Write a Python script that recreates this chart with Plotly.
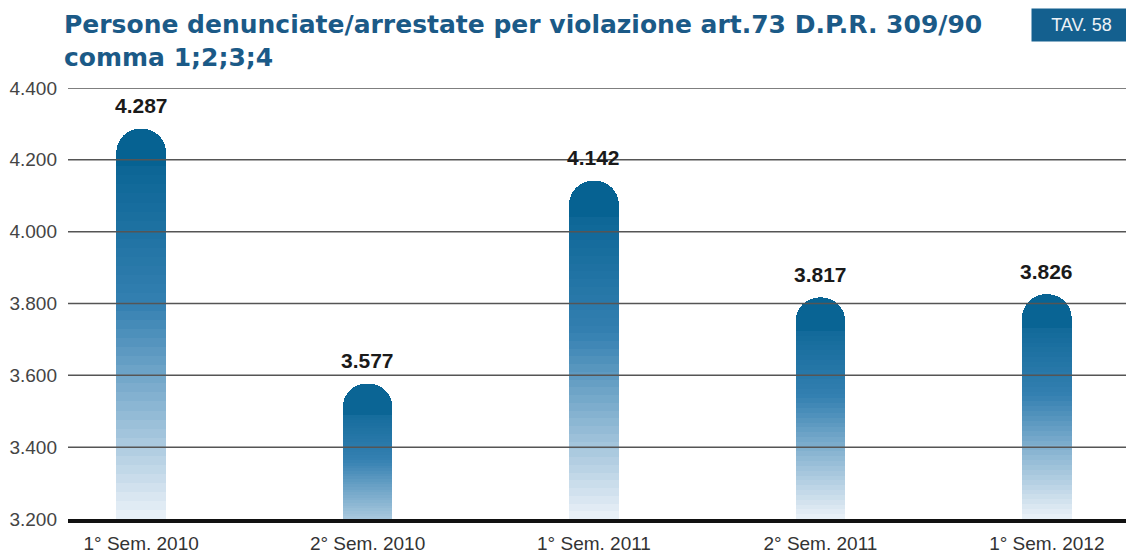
import plotly.graph_objects as go

categories = ["1° Sem. 2010", "2° Sem. 2010", "1° Sem. 2011", "2° Sem. 2011", "1° Sem. 2012"]
values = [4287, 3577, 4142, 3817, 3826]
y_ticks = [3200, 3400, 3600, 3800, 4000, 4200, 4400]
y_tick_labels = ["3.200", "3.400", "3.600", "3.800", "4.000", "4.200", "4.400"]

Y_MIN, Y_MAX = 3200, 4400
TITLE = "Persone denunciate/arrestate per violazione art.73 D.P.R. 309/90<br>comma 1;2;3;4"

stops = [(0.0, (0, 94, 142)), (0.45, (52, 128, 177)), (1.0, (236, 242, 248))]


def grad(t):
    t = max(0.0, min(1.0, t))
    for (t0, c0), (t1, c1) in zip(stops[:-1], stops[1:]):
        if t <= t1:
            f = (t - t0) / (t1 - t0)
            return "rgb(%d,%d,%d)" % tuple(round(a + (b - a) * f) for a, b in zip(c0, c1))
    return "rgb(%d,%d,%d)" % stops[-1][1]


fig = go.Figure()
N = 40
TOP_MIN = 80
for k in range(N):
    heights, colors = [], []
    for v in values:
        L = v - Y_MIN
        b0 = Y_MIN + (L - TOP_MIN) * k / N
        b1 = Y_MIN + (L - TOP_MIN) * (k + 1) / N if k < N - 1 else v
        mid = (b0 + b1) / 2
        # first slice is drawn from 0 (clipped by the axis range), the rest stack on top
        heights.append(b1 if k == 0 else b1 - b0)
        colors.append(grad((v - mid) / max(L, 470)))
    fig.add_trace(go.Bar(
        x=categories, y=heights,
        marker=dict(color=colors, line=dict(width=0)),
        width=0.22, showlegend=False, hoverinfo="skip",
    ))

for c, v in zip(categories, values):
    fig.add_annotation(x=c, y=v, text=f"{v:,}".replace(",", "."), showarrow=False,
                       yshift=23, font=dict(family="Liberation Sans", size=21, color="#1a1a1a", weight="bold"))

for t in y_ticks[1:]:
    fig.add_shape(type="line", xref="paper", x0=0, x1=1, yref="y", y0=t, y1=t,
                  line=dict(color="#555555", width=1.5), layer="above")

fig.add_annotation(xref="paper", yref="paper", x=-0.0056, y=1.1856, yanchor="top", xanchor="left",
                   text=f"<b>{TITLE}</b>", align="left", showarrow=False,
                   font=dict(family="DejaVu Sans", size=25, color="#1b5a87"))
fig.add_annotation(xref="paper", yref="paper", x=0.998, y=1.1856, xanchor="right", yanchor="top",
                   text="TAV. 58", showarrow=False, bgcolor="#14608f",
                   borderpad=4, width=91, height=24,
                   font=dict(family="Liberation Sans", size=18, color="#eef2f6"))

fig.update_layout(
    width=1126, height=550,
    margin=dict(l=60, r=0, t=80, b=39),
    paper_bgcolor="white", plot_bgcolor="white",
    barmode="stack", barcornerradius="50%",
    xaxis=dict(range=[-0.323, 4.385], showgrid=False, showline=True, linecolor="#111111",
               linewidth=4, layer="above traces", ticks="", ticklabelstandoff=4,
               tickfont=dict(family="Liberation Sans", size=19, color="#333333"),
               fixedrange=True),
    yaxis=dict(range=[Y_MIN, Y_MAX], tickvals=y_ticks, ticktext=y_tick_labels, showgrid=False,
               zeroline=False, ticklabelstandoff=10,
               tickfont=dict(family="Liberation Sans", size=19, color="#444444"), fixedrange=True),
)

fig.write_html("out.html")
